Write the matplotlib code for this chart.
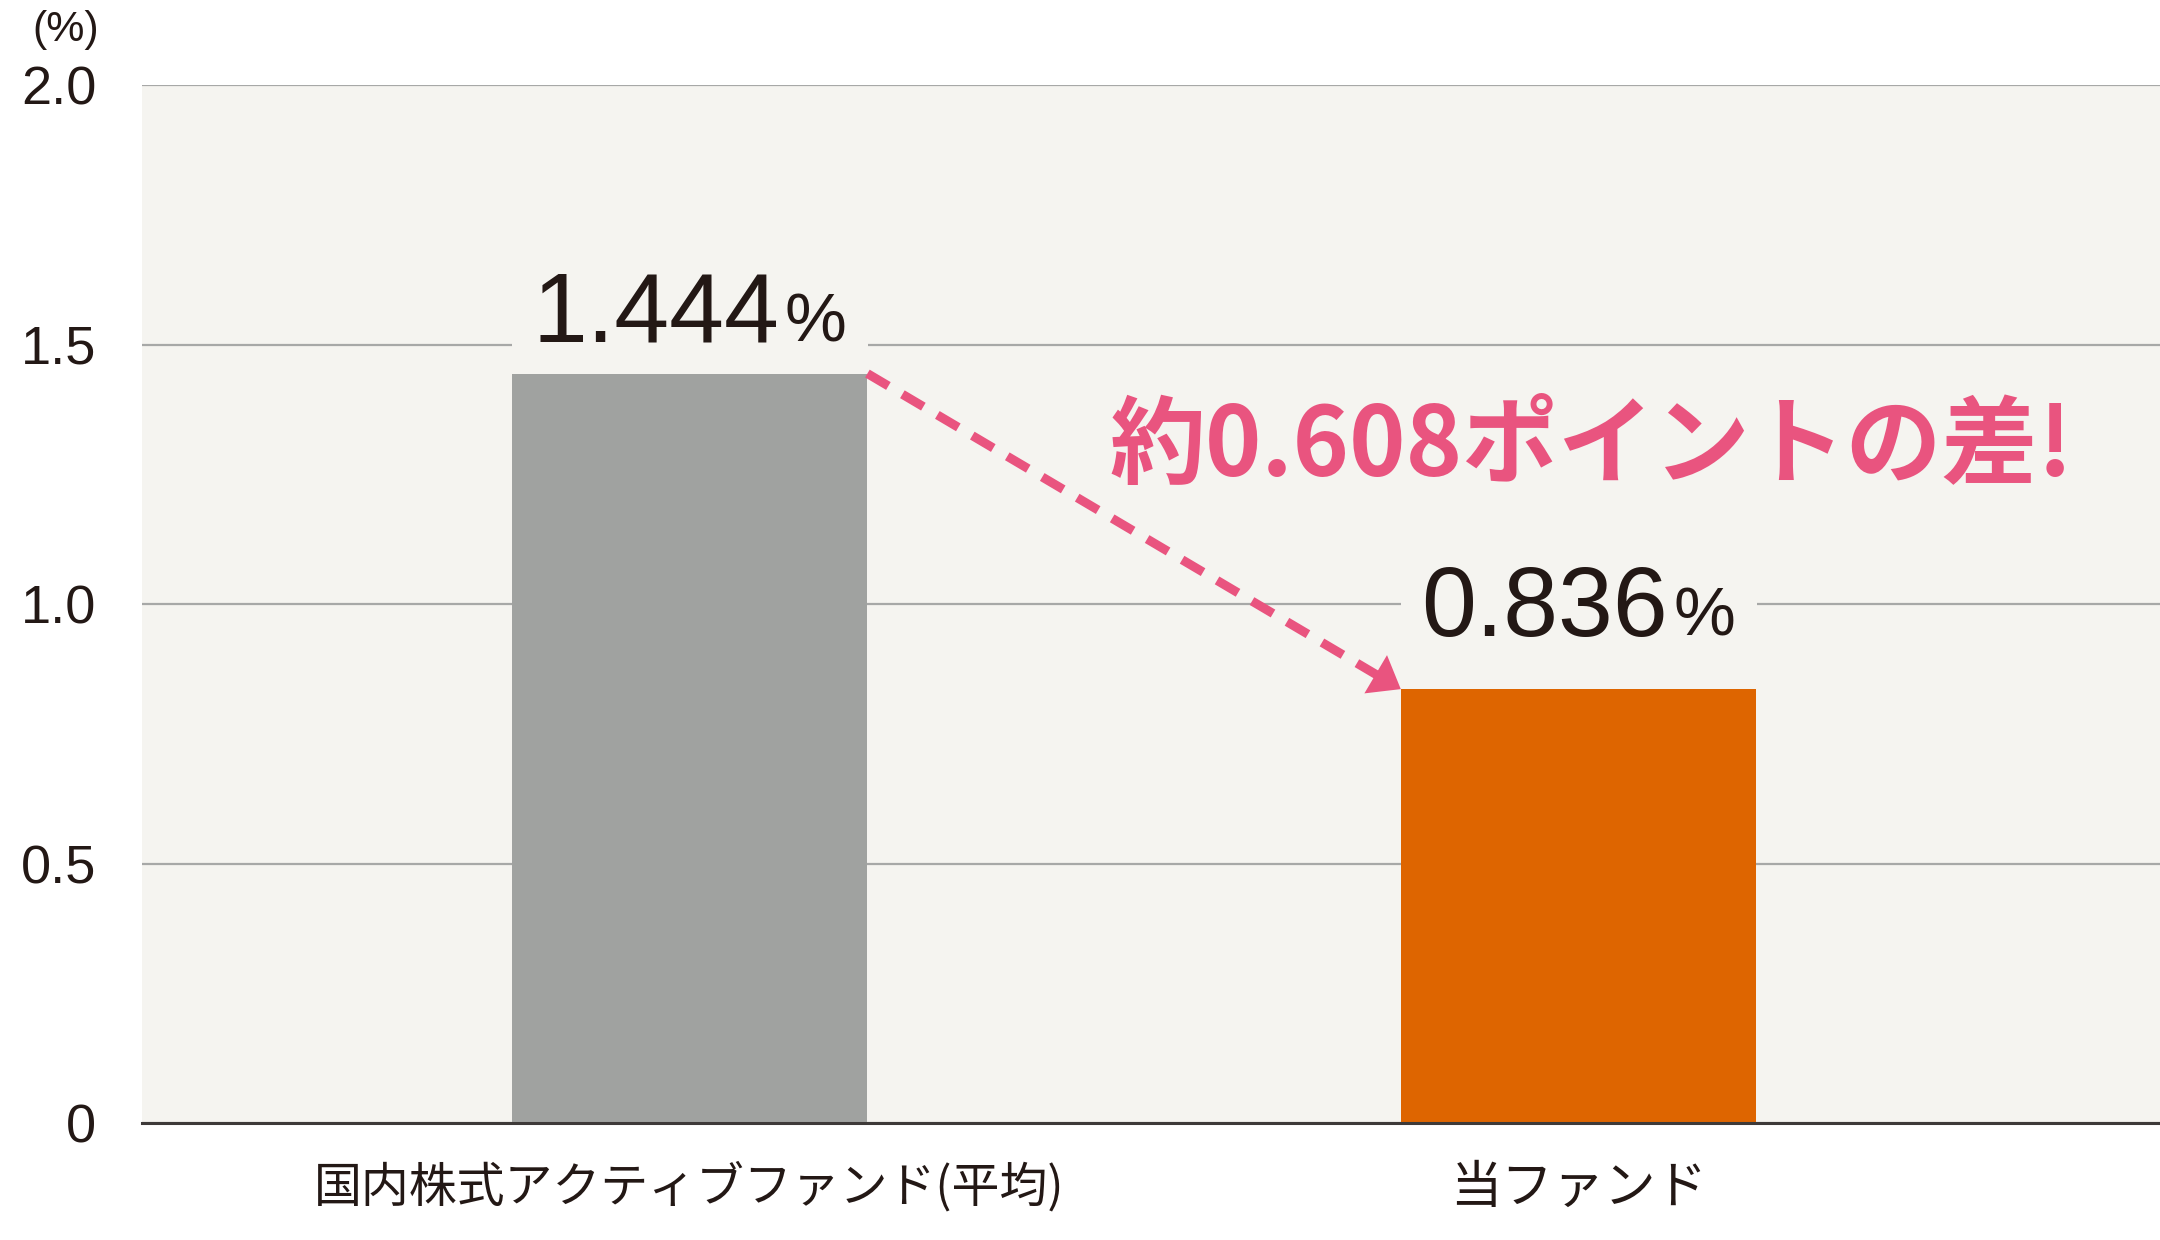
import matplotlib
matplotlib.use("Agg")
import matplotlib.pyplot as plt
from matplotlib.offsetbox import TextArea, HPacker, AnnotationBbox

# ---- data ----
categories = ["国内株式アクティブファンド(平均)", "当ファンド"]
values = [1.444, 0.836]
value_labels = ["1.444", "0.836"]
bar_colors = ["#A0A2A0", "#DE6500"]
yticks = [0, 0.5, 1.0, 1.5, 2.0]
ytick_labels = ["0", "0.5", "1.0", "1.5", "2.0"]
diff_label = "約0.608ポイントの差!"
unit_label = "(%)"

# ---- style ----
BG = "#F5F4F0"
DARK = "#231815"
PINK = "#E9547F"
GRID = "#A7A8A7"
LATIN = ["Liberation Sans", "DejaVu Sans"]
CJK = ["Noto Sans CJK JP", "DejaVu Sans"]
plt.rcParams["font.family"] = LATIN

W, H = 2160, 1240
fig = plt.figure(figsize=(W / 100, H / 100), dpi=100)
fig.patch.set_facecolor("white")
ax = fig.add_axes([142 / W, 1 - 1123 / H, 1 - 142 / W, (1123 - 85) / H])
ax.set_facecolor(BG)

x = list(range(len(categories)))
bar_w = 0.40
ax.bar(x, values, width=bar_w, color=bar_colors, zorder=3)

ax.set_xlim(-0.616, 1.654)
ax.set_ylim(0, 2.0)

ax.set_yticks(yticks)
ax.set_yticklabels(ytick_labels, fontsize=39, color=DARK, family=LATIN)
ax.set_xticks(x)
ax.set_xticklabels(categories, fontsize=37, color=DARK, family=CJK)
ax.get_xticklabels()[0].set_fontsize(34.5)
ax.tick_params(axis="y", length=0, pad=33)
ax.tick_params(axis="x", length=0, pad=28)

ax.set_axisbelow(True)
ax.yaxis.grid(True, color=GRID, lw=1.6)
for s in ["top", "right", "left"]:
    ax.spines[s].set_visible(False)
ax.spines["bottom"].set_color("#3E3A39")
ax.spines["bottom"].set_linewidth(2.2)
ax.spines["bottom"].set_zorder(4)

# value labels with background boxes cutting the grid lines
label_offsets = [-6, 9]  # points (box bottom relative to bar top)
for xi, v, lab, off in zip(x, values, value_labels, label_offsets):
    t1 = TextArea(lab, textprops=dict(fontsize=71, color=DARK, family=LATIN))
    t2 = TextArea("%", textprops=dict(fontsize=50, color=DARK, family=LATIN))
    pack = HPacker(children=[t1, t2], align="baseline", pad=15, sep=4)
    ab = AnnotationBbox(pack, (xi, v), xybox=(0, off), xycoords="data",
                        boxcoords="offset points", box_alignment=(0.5, 0),
                        frameon=True, pad=0.0,
                        bboxprops=dict(facecolor=BG, edgecolor="none"),
                        zorder=2)
    ax.add_artist(ab)

# dashed arrow from top-right of bar 1 to top-left of bar 2
start = (x[0] + bar_w / 2, values[0])
end = (x[1] - bar_w / 2, values[1])
head_len, head_wid = 21, 16
ax.annotate("", xy=end, xytext=start,
            arrowprops=dict(arrowstyle="-", lw=6.5, ls=(0, (2.7, 1.8)),
                            color=PINK, shrinkA=0, shrinkB=head_len - 2,
                            capstyle="butt"),
            zorder=6)
ax.annotate("", xy=end, xytext=start,
            arrowprops=dict(arrowstyle=f"-|>,head_length={head_len},head_width={head_wid}",
                            mutation_scale=1, lw=0, color=PINK,
                            shrinkA=0, shrinkB=0),
            zorder=6)

ax.text(1.014, 1.30, diff_label, fontsize=69, fontweight="bold", color=PINK,
        family=CJK, ha="center", va="center", zorder=7)

fig.text(66 / W, 1 - 30 / H, unit_label, fontsize=31, color=DARK,
         family=LATIN, ha="center", va="center")

fig.savefig("out.png", dpi=100, facecolor="white")
